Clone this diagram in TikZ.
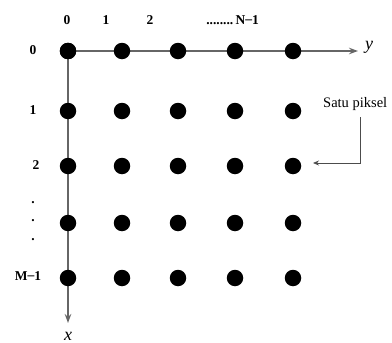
\documentclass[tikz,border=0pt]{standalone}
\usepackage{fontspec}
\setmainfont{Liberation Serif}
\usetikzlibrary{arrows.meta}
\begin{document}
\begin{tikzpicture}[x=1pt,y=-1pt,
  pix/.style={circle,fill=black,inner sep=0pt,minimum size=16.5pt},
  lab/.style={font=\bfseries\fontsize{13.5}{14}\selectfont,inner sep=0pt},
  axis/.style={draw=black!60,line width=1.3pt},
  tipa/.style={-{Stealth[length=9pt,width=6.5pt]}}]
\useasboundingbox (0,0) rectangle (392,343);
% axes
\coordinate (yend) at (358,51);
\coordinate (xend) at (68,323);
\node[pix] (p00) at (68,51) {};
\draw[axis,tipa] (p00.center) -- (yend);
\draw[axis,tipa] (p00.center) -- (xend);
\node[inner sep=0pt,font=\itshape\fontsize{18}{18}\selectfont] (ylab) at (369,47) {y};
\node[inner sep=0pt,font=\itshape\fontsize{18}{18}\selectfont] (xlab) at (68,336) {x};
% dots
\foreach \c [count=\i] in {68,122,178,235,293}{
  \foreach \r [count=\j] in {51,111,166,223,278}{
    \node[pix] (p\i\j) at (\c,\r) {};
  }
}
% top labels
\node[lab] (t0) at (67,20) {0};
\node[lab] (t1) at (106,20) {1};
\node[lab] (t2) at (150,20) {2};
\node[lab,anchor=east] (tn) at (259,20) {........\,N\raisebox{0.2ex}{--}1};
% left labels
\node[lab] (l0) at (33,50) {0};
\node[lab] (l1) at (33,110) {1};
\node[lab] (l2) at (36,165) {2};
\node[lab] (d1) at (33,203) {.};
\node[lab] (d2) at (33,221) {.};
\node[lab] (d3) at (33,240) {.};
\node[lab] (lm) at (28,276) {M\raisebox{0.2ex}{--}1};
% satu piksel
\node[inner sep=0pt,anchor=west,font=\fontsize{14.5}{15}\selectfont] (sp) at (323,104) {Satu piksel};
\coordinate (corner) at (360,163);
\draw[black!70,line width=0.8pt,-{Stealth[length=6pt,width=5pt]}] (360,117) -- (corner) -- (313,163);
\end{tikzpicture}
\end{document}
